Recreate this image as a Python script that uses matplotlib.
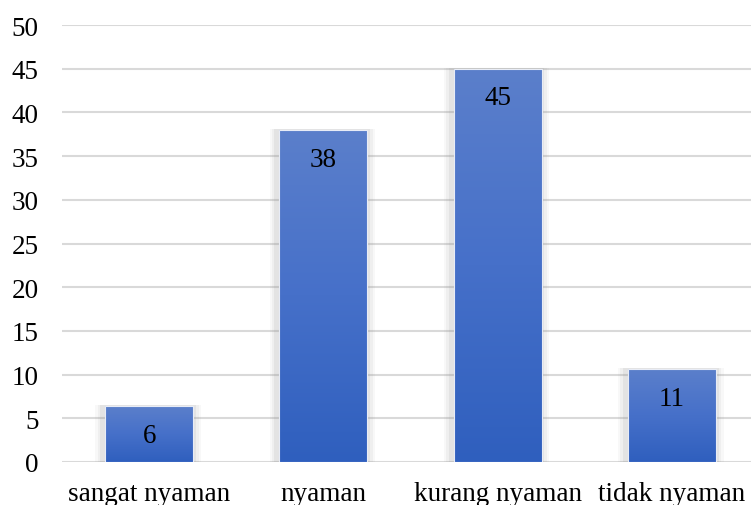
import numpy as np
import matplotlib.pyplot as plt
from matplotlib.colors import LinearSegmentedColormap

categories = ['sangat nyaman', 'nyaman', 'kurang nyaman', 'tidak nyaman']
values = [6.4, 38, 45, 10.6]
yticks = [0, 5, 10, 15, 20, 25, 30, 35, 40, 45, 50]

plt.rcParams['font.family'] = ['Liberation Serif', 'DejaVu Serif']

fig = plt.figure(figsize=(7.51, 5.06), dpi=100)
ax = fig.add_axes([62 / 751, 43 / 506, 697 / 751, 437 / 506])

x = np.arange(len(categories))

# soft shadow behind the bars
for dw, a in [(0.10, 0.05), (0.075, 0.07), (0.045, 0.10)]:
    ax.bar(x - 0.006, np.array(values) + 0.25, width=0.505 + dw, bottom=-0.15,
           color='#808080', alpha=a, linewidth=0, zorder=2)

bars = ax.bar(x, values, width=0.505, color='none', edgecolor='#e8ecf6',
              linewidth=0.8, zorder=4)

cmap = LinearSegmentedColormap.from_list('grad', ['#2f5fbe', '#4670c9', '#5b7fcb'])
grad = np.linspace(0, 1, 256).reshape(-1, 1)
for b in bars:
    x0, y0 = b.get_x(), b.get_y()
    im = ax.imshow(grad, cmap=cmap, aspect='auto', origin='lower',
                   extent=[x0, x0 + b.get_width(), y0, y0 + b.get_height()],
                   zorder=3)
    im.set_clip_path(b)

for b, v in zip(bars, values):
    ax.annotate(f'{round(v)}', (b.get_x() + b.get_width() / 2, b.get_height()),
                xytext=(0, -21), textcoords='offset points',
                ha='center', va='center', fontsize=19.5, color='black', zorder=5)

ax.set_xlim(-0.5, 3.5)
ax.set_ylim(0, 50)
ax.set_yticks(yticks)
ax.set_xticks(x)
ax.set_xticklabels(categories)
ax.tick_params(axis='both', length=0, labelsize=19.5)
ax.tick_params(axis='x', pad=14)
ax.tick_params(axis='y', pad=17)
ax.grid(axis='y', color='#d9d9d9', linewidth=1.5, zorder=0)
ax.set_axisbelow(True)
for s in ax.spines.values():
    s.set_visible(False)

fig.savefig('out.png', dpi=100)
